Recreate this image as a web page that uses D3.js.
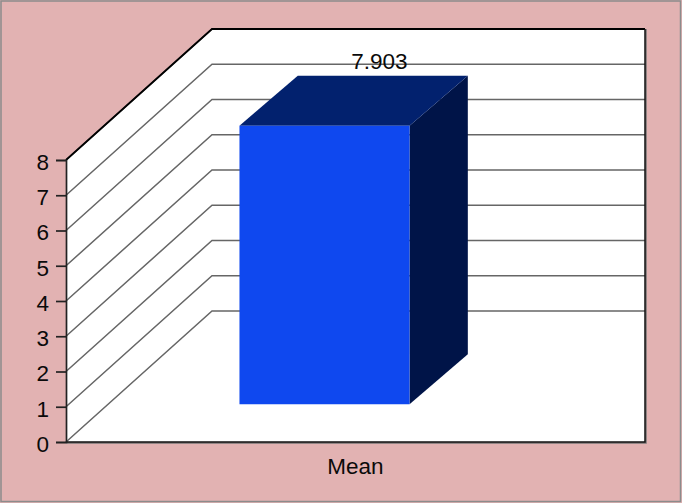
<!DOCTYPE html>
<html>
<head>
<meta charset="utf-8">
<script src="https://cdn.jsdelivr.net/npm/d3@7/dist/d3.min.js"></script>
<style>
  html, body { margin: 0; padding: 0; background: #e2b2b2; overflow: hidden; }
  text { font-family: "Liberation Sans", Arial, sans-serif; fill: #0a0a0a; }
</style>
</head>
<body>
<script>
//chart values
var categories = ["Mean"];
var values = [7.903];
var yTicks = [0, 1, 2, 3, 4, 5, 6, 7, 8];
var valueLabels = ["7.903"];

var width = 682,
    height = 503;

var svg = d3.select("body")
    .append("svg")
    .attr("width", width)
    .attr("height", height)
    .style("display", "block");

//outer frame
svg.append("rect")
    .attr("x", 1)
    .attr("y", 1)
    .attr("width", width - 2.5)
    .attr("height", height - 2.5)
    .attr("fill", "#e2b2b2")
    .attr("stroke", "#8c8c8c")
    .attr("stroke-width", 1.5);

//front plane scales
var x = d3.scaleBand()
    .domain(categories)
    .range([66, 499])
    .padding(0.436);

var y = d3.scaleLinear()
    .domain([0, 8])
    .range([442, 160]);

//depth: 0 is the front of the floor, 1 is the back wall
var depthX = d3.scaleLinear().domain([0, 1]).range([0, 146]);
var depthY = d3.scaleLinear().domain([0, 1]).range([0, -131]);

function pt(px, py, t){
    return [px + depthX(t), py + depthY(t)];
}
var line = d3.line();

var left = x.range()[0],
    right = x.range()[1];

//walls and floor
svg.append("path")
    .attr("d", line([
        pt(left, y(0), 0), pt(left, y(8), 0), pt(left, y(8), 1),
        pt(right, y(8), 1), [pt(right, y(0), 1)[0], y(0)]
    ]) + "Z")
    .attr("fill", "#fff");

//gridlines
svg.selectAll(".grid")
    .data(yTicks)
    .enter()
    .append("path")
    .attr("class", "grid")
    .attr("d", function(d){
        return line([pt(left, y(d), 0), pt(left, y(d), 1), pt(right, y(d), 1)]);
    })
    .attr("fill", "none")
    .attr("stroke", "#666")
    .attr("stroke-width", 1.5);

//top edge of the wall
svg.append("path")
    .attr("d", line([pt(left, y(8), 0), pt(left, y(8), 1), pt(right, y(8), 1)]))
    .attr("fill", "none")
    .attr("stroke", "#000")
    .attr("stroke-width", 1.8);

//right edge and floor front, with the grey edge outside
svg.append("path")
    .attr("d", line([[pt(right, y(8), 1)[0] + 1, pt(right, y(8), 1)[1]], [pt(right, y(8), 1)[0] + 1, y(0) + 1], [left, y(0) + 1]]))
    .attr("fill", "none")
    .attr("stroke", "#777")
    .attr("stroke-width", 1.5);
svg.append("path")
    .attr("d", line([pt(right, y(8), 1), [pt(right, y(8), 1)[0], y(0)], [left, y(0)]]))
    .attr("fill", "none")
    .attr("stroke", "#111")
    .attr("stroke-width", 1.5);

//y axis
var yAxis = d3.axisLeft(y)
    .tickValues(yTicks)
    .tickSize(10)
    .tickPadding(7)
    .tickFormat(d3.format("d"));

var yG = svg.append("g")
    .attr("transform", "translate(" + left + ",0)")
    .call(yAxis);
yG.select(".domain").attr("stroke", "#222").attr("stroke-width", 1.7);
yG.selectAll(".tick line").attr("stroke", "#222").attr("stroke-width", 1.7);
yG.selectAll(".tick text")
    .attr("dy", "0.42em")
    .style("font-family", '"Liberation Sans", Arial, sans-serif')
    .style("font-size", "22.5px")
    .attr("fill", "#0a0a0a");

//the bar, front at t0 and back at t1
var t0 = 0.288,
    t1 = 0.67;
var barDepthX = d3.scaleLinear().domain([t0, t1]).range([42, 100.3]);

function barPt(px, py, t){
    return [px + barDepthX(t), py + depthY(t)];
}

var bars = svg.selectAll(".bar")
    .data(categories.map(function(c, i){ return {name: c, value: values[i], label: valueLabels[i]}; }))
    .enter()
    .append("g")
    .attr("class", "bar");

//right side
bars.append("path")
    .attr("d", function(d){
        var a = x(d.name) + x.bandwidth();
        return line([barPt(a, y(0), t0), barPt(a, y(d.value), t0), barPt(a, y(d.value), t1), barPt(a, y(0), t1)]) + "Z";
    })
    .attr("fill", "#001448");

//top
bars.append("path")
    .attr("d", function(d){
        var a = x(d.name), b = a + x.bandwidth();
        return line([barPt(a, y(d.value), t0), barPt(b, y(d.value), t0), barPt(b, y(d.value), t1), barPt(a, y(d.value), t1)]) + "Z";
    })
    .attr("fill", "#02216e");

//front
bars.append("path")
    .attr("d", function(d){
        var a = x(d.name), b = a + x.bandwidth();
        return line([barPt(a, y(0), t0), barPt(b, y(0), t0), barPt(b, y(d.value), t0), barPt(a, y(d.value), t0)]) + "Z";
    })
    .attr("fill", "#0f48ef");

//value label
bars.append("text")
    .attr("x", function(d){ return barPt(x(d.name) + x.bandwidth() / 2, 0, t1)[0] - 3.5; })
    .attr("y", function(d){ return barPt(0, y(d.value), t1)[1] - 7; })
    .attr("text-anchor", "middle")
    .style("font-size", "22.5px")
    .text(function(d){ return d.label; });

//category label
svg.selectAll(".cat")
    .data(categories)
    .enter()
    .append("text")
    .attr("class", "cat")
    .attr("x", function(d){ return x(d) + x.bandwidth() / 2 + depthX(0.5); })
    .attr("y", 474)
    .attr("text-anchor", "middle")
    .style("font-size", "22.5px")
    .text(function(d){ return d; });
</script>
</body>
</html>
